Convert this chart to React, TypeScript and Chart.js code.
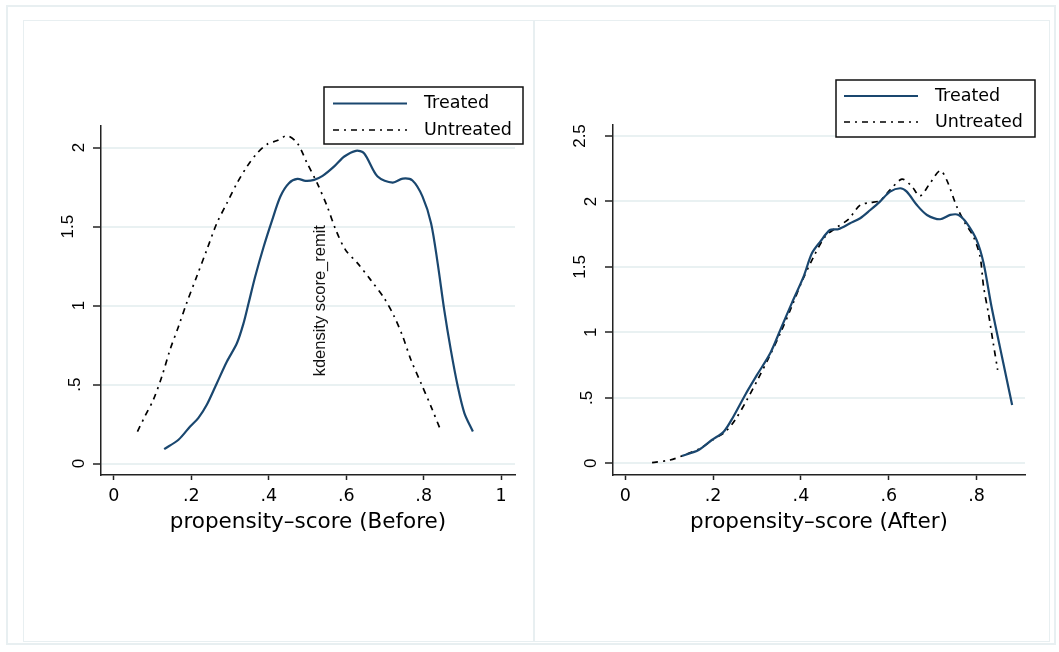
import React, { useEffect, useRef } from "react";
import { Chart, registerables } from "chart.js";

Chart.register(...registerables);

// ---------- data: before matching ----------
const treatedBeforeX = [0.130, 0.167, 0.197, 0.218, 0.240, 0.266, 0.292, 0.318, 0.335, 0.348, 0.365, 0.387, 0.409, 0.430, 0.452, 0.474, 0.495, 0.517, 0.539, 0.569, 0.595, 0.625, 0.646, 0.681, 0.720, 0.746, 0.771, 0.797, 0.819, 0.836, 0.853, 0.870, 0.888, 0.905, 0.927];
const treatedBeforeY = [0.092, 0.151, 0.235, 0.288, 0.372, 0.509, 0.646, 0.763, 0.889, 1.016, 1.184, 1.374, 1.543, 1.691, 1.775, 1.802, 1.790, 1.796, 1.821, 1.881, 1.944, 1.980, 1.965, 1.817, 1.779, 1.804, 1.792, 1.690, 1.522, 1.269, 0.973, 0.720, 0.488, 0.320, 0.203];
const untreatedBeforeX = [0.061, 0.080, 0.102, 0.124, 0.145, 0.167, 0.188, 0.214, 0.240, 0.266, 0.292, 0.318, 0.344, 0.370, 0.396, 0.422, 0.448, 0.474, 0.499, 0.525, 0.551, 0.573, 0.598, 0.629, 0.663, 0.698, 0.724, 0.746, 0.767, 0.793, 0.819, 0.845];
const untreatedBeforeY = [0.203, 0.298, 0.404, 0.551, 0.720, 0.868, 1.016, 1.184, 1.353, 1.522, 1.649, 1.775, 1.881, 1.965, 2.022, 2.045, 2.075, 2.028, 1.902, 1.775, 1.627, 1.480, 1.353, 1.269, 1.163, 1.047, 0.931, 0.804, 0.657, 0.509, 0.361, 0.203];

// ---------- data: after matching ----------
const treatedAfterX = [0.129, 0.167, 0.197, 0.224, 0.246, 0.273, 0.300, 0.330, 0.353, 0.379, 0.406, 0.425, 0.444, 0.466, 0.485, 0.512, 0.535, 0.558, 0.580, 0.603, 0.626, 0.641, 0.664, 0.687, 0.717, 0.740, 0.759, 0.778, 0.800, 0.816, 0.834, 0.853, 0.869, 0.881];
const treatedAfterY = [0.056, 0.102, 0.178, 0.241, 0.356, 0.522, 0.675, 0.840, 1.018, 1.222, 1.426, 1.604, 1.693, 1.782, 1.788, 1.833, 1.872, 1.935, 1.999, 2.075, 2.101, 2.075, 1.973, 1.897, 1.864, 1.897, 1.897, 1.833, 1.706, 1.528, 1.197, 0.891, 0.636, 0.445];
const untreatedAfterX = [0.061, 0.102, 0.129, 0.171, 0.201, 0.228, 0.250, 0.277, 0.303, 0.326, 0.353, 0.379, 0.402, 0.429, 0.455, 0.482, 0.508, 0.535, 0.558, 0.580, 0.603, 0.630, 0.652, 0.671, 0.694, 0.717, 0.732, 0.755, 0.774, 0.793, 0.808, 0.816, 0.827, 0.838, 0.848];
const untreatedAfterY = [0.005, 0.025, 0.056, 0.115, 0.183, 0.241, 0.331, 0.484, 0.649, 0.802, 0.993, 1.197, 1.387, 1.578, 1.731, 1.803, 1.864, 1.973, 1.991, 2.006, 2.088, 2.170, 2.118, 2.042, 2.139, 2.235, 2.164, 1.960, 1.833, 1.731, 1.578, 1.349, 1.146, 0.917, 0.713];

// ---------- ticks & labels ----------
const xTicksBefore = [0, 0.2, 0.4, 0.6, 0.8, 1];
const xLabelsBefore = ["0", ".2", ".4", ".6", ".8", "1"];
const yTicksBefore = [0, 0.5, 1, 1.5, 2];
const yLabelsBefore = ["0", ".5", "1", "1.5", "2"];
const xTicksAfter = [0, 0.2, 0.4, 0.6, 0.8];
const xLabelsAfter = ["0", ".2", ".4", ".6", ".8"];
const yTicksAfter = [0, 0.5, 1, 1.5, 2, 2.5];
const yLabelsAfter = ["0", ".5", "1", "1.5", "2", "2.5"];

const seriesNames = ["Treated", "Untreated"];
const titleBefore = "propensity–score (Before)";
const titleAfter = "propensity–score (After)";
const noteText = "kdensity score_remit";

const TREATED_COLOR = "#1a476f";
const UNTREATED_COLOR = "#000000";
const UNTREATED_DASH = [6, 5, 2, 5];
const GRID_COLOR = "#e9f1f2";
const AXIS_COLOR = "#222222";

const decorPlugin = {
  id: "panelDecor",
  afterDraw(chart: any, _args: any, opts: any) {
    const ctx = chart.ctx as CanvasRenderingContext2D;
    const ys = chart.scales.y;
    const area = chart.chartArea;
    ctx.save();
    // rotated y tick labels
    ctx.font = '17px "Liberation Sans", Arial, sans-serif';
    ctx.fillStyle = "#000";
    ctx.textAlign = "center";
    ctx.textBaseline = "middle";
    (opts.yTicks as number[]).forEach((v, i) => {
      const label = opts.yLabels[i];
      const py = ys.getPixelForValue(v);
      const w = ctx.measureText(label).width;
      const px = area.left - 15 - 0.75 * w;
      ctx.save();
      ctx.translate(px, py);
      ctx.rotate(-Math.PI / 2);
      ctx.fillText(label, 0, 0);
      ctx.restore();
    });
    // note text
    if (opts.note) {
      const px = chart.scales.x.getPixelForValue(opts.note.x);
      const py = ys.getPixelForValue(opts.note.y);
      ctx.font = '16.5px "Liberation Sans", Arial, sans-serif';
      ctx.fillStyle = "#111";
      ctx.save();
      ctx.translate(px, py);
      ctx.rotate(-Math.PI / 2);
      ctx.fillText(opts.note.text, 0, 0);
      ctx.restore();
    }
    // legend
    const lg = opts.legend;
    ctx.fillStyle = "#fff";
    ctx.fillRect(lg.x, lg.y, lg.w, lg.h);
    ctx.strokeStyle = "#111";
    ctx.lineWidth = 1.5;
    ctx.strokeRect(lg.x, lg.y, lg.w, lg.h);
    const rows = [lg.row1, lg.row2];
    chart.data.datasets.forEach((ds: any, i: number) => {
      const ry = lg.y + rows[i];
      ctx.beginPath();
      ctx.strokeStyle = ds.borderColor;
      ctx.lineWidth = ds.borderWidth;
      ctx.setLineDash(ds.borderDash || []);
      ctx.moveTo(lg.x + lg.s1, ry);
      ctx.lineTo(lg.x + lg.s2, ry);
      ctx.stroke();
      ctx.setLineDash([]);
      ctx.font = '17.5px "DejaVu Sans", sans-serif';
      ctx.fillStyle = "#000";
      ctx.textAlign = "left";
      ctx.textBaseline = "middle";
      ctx.fillText(ds.label, lg.x + lg.tx, ry);
    });
    ctx.restore();
  },
};

function pts(xs: number[], ys: number[]) {
  return xs.map((x, i) => ({ x, y: ys[i] }));
}

function buildConfig(spec: any): any {
  return {
    type: "line",
    data: {
      datasets: [
        {
          label: seriesNames[0],
          data: pts(spec.tx, spec.ty),
          borderColor: TREATED_COLOR,
          borderWidth: 2.2,
          pointRadius: 0,
          fill: false,
          tension: 0.3,
        },
        {
          label: seriesNames[1],
          data: pts(spec.ux, spec.uy),
          borderColor: UNTREATED_COLOR,
          borderWidth: 1.7,
          borderDash: UNTREATED_DASH,
          pointRadius: 0,
          fill: false,
          tension: 0.3,
        },
      ],
    },
    options: {
      animation: false,
      responsive: false,
      events: [],
      layout: { padding: spec.padding },
      plugins: {
        legend: { display: false },
        tooltip: { enabled: false },
        title: { display: false },
        panelDecor: {
          yTicks: spec.yTicks,
          yLabels: spec.yLabels,
          note: spec.note,
          legend: spec.legend,
        },
      },
      scales: {
        x: {
          type: "linear",
          min: spec.xMin,
          max: spec.xMax,
          afterBuildTicks: (s: any) => {
            s.ticks = spec.xTicks.map((v: number) => ({ value: v }));
          },
          afterFit: (s: any) => {
            s.height = 60;
          },
          grid: {
            drawOnChartArea: false,
            drawTicks: true,
            tickLength: 5,
            tickColor: AXIS_COLOR,
            tickWidth: 1.5,
          },
          border: { display: true, color: AXIS_COLOR, width: 1.5 },
          ticks: {
            autoSkip: false,
            maxRotation: 0,
            minRotation: 0,
            padding: 6,
            color: "#000",
            font: { family: '"DejaVu Sans", sans-serif', size: 17.5 },
            callback: (v: number) => {
              const i = spec.xTicks.indexOf(v);
              return i >= 0 ? spec.xLabels[i] : "";
            },
          },
          title: {
            display: true,
            text: spec.title,
            color: "#000",
            font: { family: '"DejaVu Sans", sans-serif', size: 21.5 },
            padding: { top: 0, bottom: 0 },
          },
        },
        y: {
          type: "linear",
          min: spec.yMin,
          max: spec.yMax,
          afterBuildTicks: (s: any) => {
            s.ticks = spec.yTicks.map((v: number) => ({ value: v }));
          },
          afterFit: (s: any) => {
            s.width = 60;
          },
          grid: {
            color: GRID_COLOR,
            lineWidth: 2,
            drawTicks: true,
            tickLength: 8,
            tickColor: AXIS_COLOR,
            tickWidth: 1.5,
          },
          border: { display: true, color: AXIS_COLOR, width: 1.5 },
          ticks: { display: false },
        },
      },
    },
    plugins: [decorPlugin],
  };
}

const beforeSpec = {
  tx: treatedBeforeX, ty: treatedBeforeY, ux: untreatedBeforeX, uy: untreatedBeforeY,
  xTicks: xTicksBefore, xLabels: xLabelsBefore, yTicks: yTicksBefore, yLabels: yLabelsBefore,
  xMin: -0.0331, xMax: 1.0357, yMin: -0.0722, yMax: 2.137,
  title: titleBefore,
  padding: { left: 41, top: 126, right: 544, bottom: 117 },
  note: { x: 0.533, y: 1.031, text: noteText },
  legend: { x: 324, y: 87, w: 199, h: 57, row1: 16.5, row2: 43, s1: 9, s2: 83, tx: 100 },
};

const afterSpec = {
  tx: treatedAfterX, ty: treatedAfterY, ux: untreatedAfterX, uy: untreatedAfterY,
  xTicks: xTicksAfter, xLabels: xLabelsAfter, yTicks: yTicksAfter, yLabels: yLabelsAfter,
  xMin: -0.028, xMax: 0.9103, yMin: -0.0894, yMax: 2.584,
  title: titleAfter,
  padding: { left: 553, top: 125, right: 34, bottom: 117 },
  note: null,
  legend: { x: 836, y: 80, w: 199, h: 57, row1: 16, row2: 42, s1: 8, s2: 82, tx: 99 },
};

export default function App() {
  const leftRef = useRef<HTMLCanvasElement>(null);
  const rightRef = useRef<HTMLCanvasElement>(null);

  useEffect(() => {
    const c1 = new Chart(leftRef.current as HTMLCanvasElement, buildConfig(beforeSpec));
    const c2 = new Chart(rightRef.current as HTMLCanvasElement, buildConfig(afterSpec));
    return () => {
      c1.destroy();
      c2.destroy();
    };
  }, []);

  const frame = "#e8eff1";
  return (
    <div style={{ position: "absolute", left: 0, top: 0, width: 1059, height: 652, background: "#fff", overflow: "hidden" }}>
      <div style={{ position: "absolute", left: 6, top: 5, width: 1046, height: 636, border: `2px solid ${frame}` }} />
      <div style={{ position: "absolute", left: 23, top: 20, width: 509, height: 620, border: `1px solid ${frame}` }} />
      <div style={{ position: "absolute", left: 534, top: 20, width: 514, height: 620, border: `1px solid ${frame}` }} />
      <canvas ref={leftRef} width={1059} height={652} style={{ position: "absolute", left: 0, top: 0 }} />
      <canvas ref={rightRef} width={1059} height={652} style={{ position: "absolute", left: 0, top: 0 }} />
    </div>
  );
}
